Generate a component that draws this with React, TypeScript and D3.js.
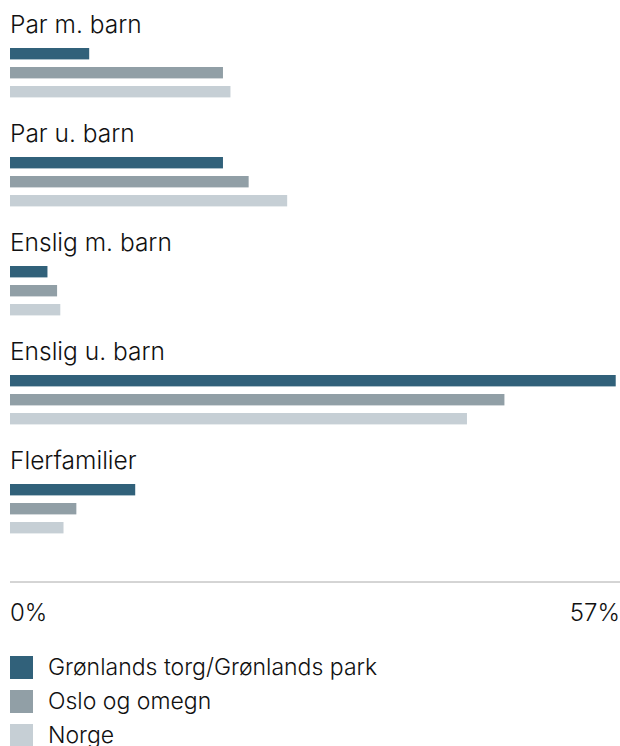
import * as d3 from "d3";

const categories = ["Par m. barn", "Par u. barn", "Enslig m. barn", "Enslig u. barn", "Flerfamilier"];
const seriesNames = ["Grønlands torg/Grønlands park", "Oslo og omegn", "Norge"];
const gronland = [7.4, 19.9, 3.5, 56.6, 11.7];
const oslo = [19.9, 22.3, 4.4, 46.2, 6.2];
const norge = [20.6, 25.9, 4.7, 42.7, 5.0];
const axisMax = 57;
const tickLabels = ["0%", "57%"];

const colors = ["#31617a", "#919fa6", "#c6cfd5"];
const font = "Inter, 'Liberation Sans', sans-serif";

export default function App() {
  const width = 620;
  const height = 746;
  const values = [gronland, oslo, norge];

  const x = d3.scaleLinear().domain([0, axisMax]).range([10, 620]);
  const group = d3.scaleBand<string>().domain(categories).range([14, 14 + 109 * categories.length]);
  const inner = d3.scaleBand<string>().domain(seriesNames).range([34, 34 + 19 * 2.6]).paddingInner(0.4);
  const axisY = 582;

  return (
    <div>
      <style>{`body{margin:0}`}</style>
      <svg width={width} height={height} style={{ display: "block" }} fontFamily={font} fontWeight={300}>
        {categories.map((c, i) => (
          <g key={c} transform={`translate(0,${group(c)})`}>
            <text x={10} y={19} fontSize={24.5} fill="#111">
              {c}
            </text>
            {seriesNames.map((s, j) => (
              <rect
                key={s}
                x={x(0)}
                y={inner(s)}
                width={x(values[j][i]) - x(0)}
                height={inner.bandwidth()}
                fill={colors[j]}
              />
            ))}
          </g>
        ))}
        <line x1={x(0)} x2={x(axisMax)} y1={axisY} y2={axisY} stroke="#aaa" strokeWidth={1} />
        <text x={x(0)} y={621} fontSize={24} fill="#111">
          {tickLabels[0]}
        </text>
        <text x={x(axisMax)} y={621} fontSize={24} fill="#111" textAnchor="end">
          {tickLabels[1]}
        </text>
        {seriesNames.map((s, j) => (
          <g key={s} transform={`translate(10,${656 + j * 34})`}>
            <rect width={23} height={23} fill={colors[j]} />
            <text x={38} y={19} fontSize={23} fill="#111">
              {s}
            </text>
          </g>
        ))}
      </svg>
    </div>
  );
}
